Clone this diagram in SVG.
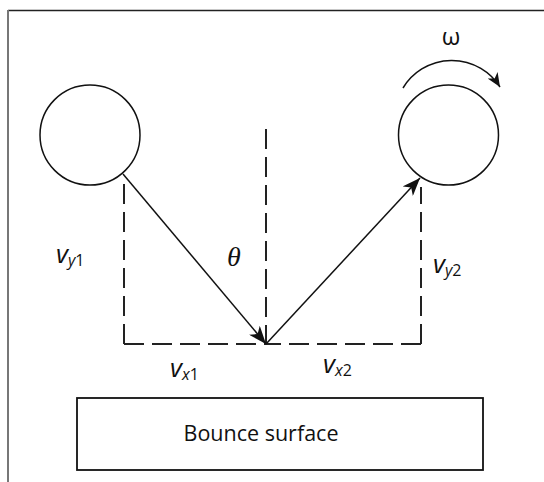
<svg xmlns="http://www.w3.org/2000/svg" width="544" height="482" viewBox="0 0 544 482">
  <style>
    .frame-top { stroke: #222; stroke-width: 1.5; fill: none; }
    .frame-left { stroke: #777; stroke-width: 2; fill: none; }
    .ball { fill: #fff; stroke: #111; stroke-width: 1.5; }
    .dash { stroke: #222; stroke-width: 2; fill: none; stroke-dasharray: 20 8; }
    .vec { stroke: #111; stroke-width: 1.5; fill: none; }
    .surface { fill: #fff; stroke: #111; stroke-width: 1.8; }
    .lbl { font-family: "Open Sans", "Liberation Sans", sans-serif; fill: #111; }
    .v { font-style: italic; font-size: 26px; }
    .sub { font-size: 16px; }
    .theta { font-family: "Liberation Serif", serif; font-style: italic; font-size: 28px; fill: #111; }
  </style>
  <defs>
    <marker id="ah" markerUnits="userSpaceOnUse" markerWidth="20" markerHeight="14" refX="18" refY="7" orient="auto">
      <path d="M0,0 L18,7 L0,14 L5,7 z" fill="#111"/>
    </marker>
    <marker id="ahs" markerUnits="userSpaceOnUse" markerWidth="16" markerHeight="12" refX="14" refY="6" orient="auto">
      <path d="M0,0 L14,6 L0,12 L4,6 z" fill="#111"/>
    </marker>
  </defs>

  <g id="frame">
    <path class="frame-top" d="M8,10.5 H544"/>
    <path class="frame-left" d="M8,10 V482"/>
  </g>

  <g id="ball-left">
    <circle class="ball" cx="90" cy="135" r="50"/>
  </g>
  <g id="ball-right">
    <circle class="ball" cx="448.5" cy="135" r="50"/>
  </g>

  <g id="bounce-surface">
    <rect class="surface" x="77" y="398" width="406" height="72"/>
    <text class="lbl" x="261" y="441" font-size="21.5" text-anchor="middle">Bounce surface</text>
  </g>

  <g id="connectors">
    <path class="dash" d="M124,344 V183"/>
    <path class="dash" d="M124,344 H266"/>
    <path class="dash" d="M266,129 V344"/>
    <path class="dash" d="M421,344 H266"/>
    <path class="dash" d="M421,344 V187"/>
    <path class="vec" d="M123,174 L266,344" marker-end="url(#ah)"/>
    <path class="vec" d="M266,344 L420,178" marker-end="url(#ah)"/>
    <path class="vec" d="M403,88 A57,57 0 0 1 500,87" marker-end="url(#ahs)"/>
  </g>

  <g id="labels">
    <text class="lbl v" x="56" y="263">v<tspan class="sub" dy="3">y</tspan><tspan class="sub" font-style="normal">1</tspan></text>
    <text class="lbl v" x="170" y="377">v<tspan class="sub" dy="3">x</tspan><tspan class="sub" font-style="normal">1</tspan></text>
    <text class="lbl v" x="323" y="373">v<tspan class="sub" dy="3">x</tspan><tspan class="sub" font-style="normal">2</tspan></text>
    <text class="lbl v" x="433" y="273">v<tspan class="sub" dy="3">y</tspan><tspan class="sub" font-style="normal">2</tspan></text>
    <text class="theta" x="227" y="266">θ</text>
    <text class="lbl" x="451" y="45" font-size="24" text-anchor="middle">ω</text>
  </g>
</svg>
